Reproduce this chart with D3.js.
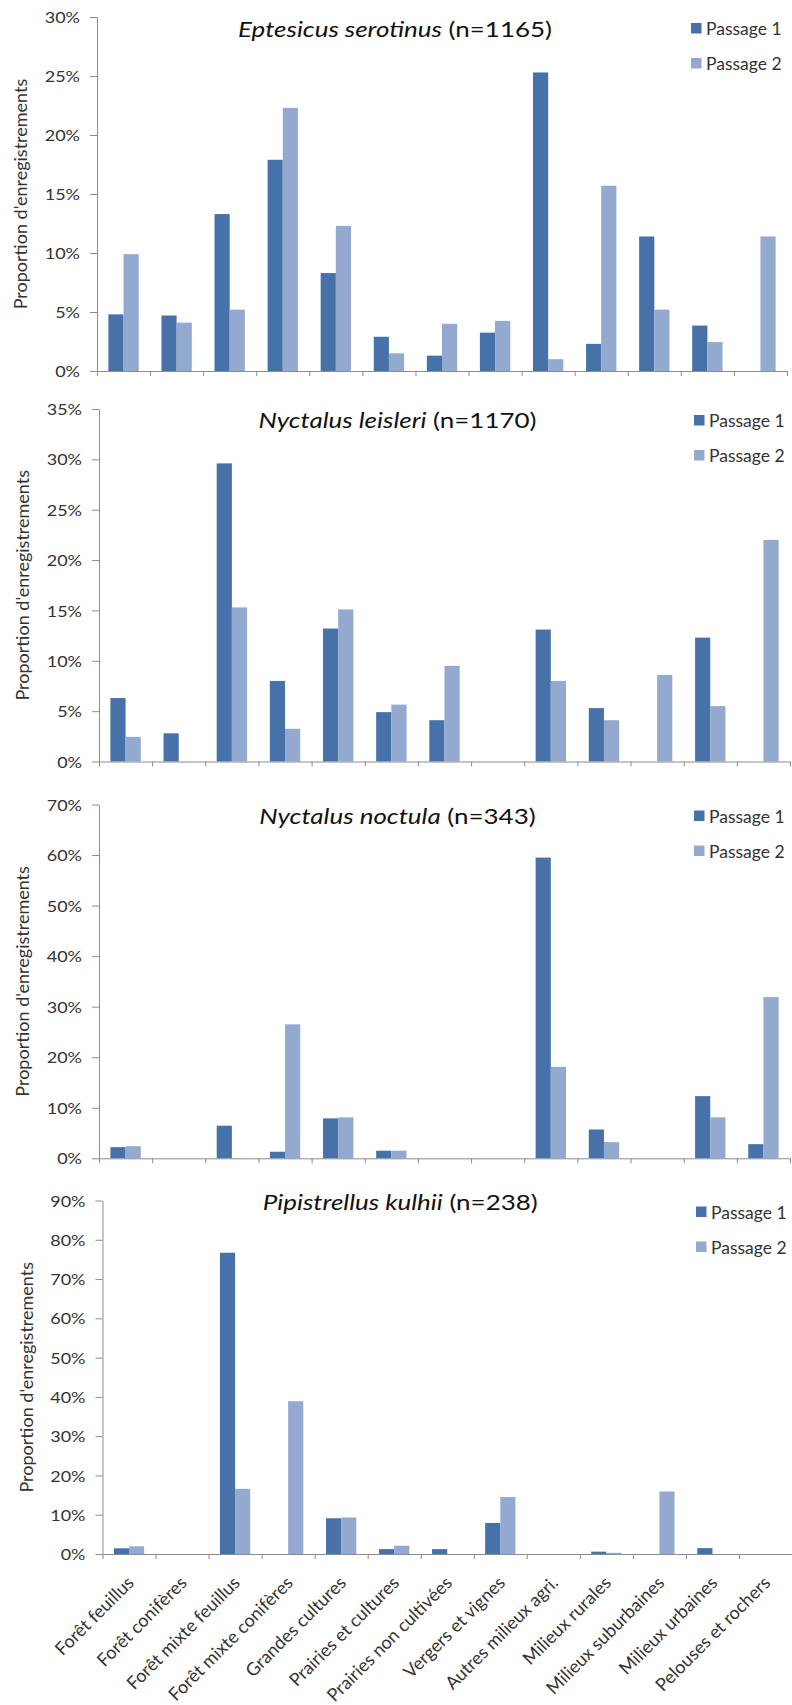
<!DOCTYPE html>
<html>
<head>
<meta charset="utf-8">
<script src="https://cdn.jsdelivr.net/npm/d3@7"></script>
<style>
  html, body { margin: 0; padding: 0; background: #ffffff; }
  svg { display: block; }
</style>
</head>
<body>
<svg id="chart" width="792" height="1705"></svg>
<script>
// Habitat categories (x axis)
const categories = [
  "Forêt feuillus", "Forêt conifères", "Forêt mixte feuillus", "Forêt mixte conifères",
  "Grandes cultures", "Prairies et cultures", "Prairies non cultivées", "Vergers et vignes",
  "Autres milieux agri.", "Milieux rurales", "Milieux suburbaines", "Milieux urbaines",
  "Pelouses et rochers"
];
const seriesNames = ["Passage 1", "Passage 2"];

// Species shown, with number of recordings
const speciesNames = ["Eptesicus serotinus", "Nyctalus leisleri", "Nyctalus noctula", "Pipistrellus kulhii"];
const sampleSizes = [1165, 1170, 343, 238];

// Share of recordings (%) per habitat, passage 1 and passage 2
const serotinusP1 = [4.8, 4.7, 13.3, 17.9, 8.3, 2.9, 1.3, 3.25, 25.3, 2.3, 11.4, 3.85, 0];
const serotinusP2 = [9.9, 4.1, 5.2, 22.3, 12.3, 1.5, 4.0, 4.25, 1.0, 15.7, 5.2, 2.45, 11.4];
const leisleriP1 = [6.3, 2.8, 29.6, 8.0, 13.2, 4.9, 4.1, 0, 13.1, 5.3, 0, 12.3, 0];
const leisleriP2 = [2.45, 0, 15.3, 3.25, 15.1, 5.65, 9.5, 0, 8.0, 4.1, 8.6, 5.5, 22.0];
const noctulaP1 = [2.2, 0, 6.45, 1.3, 7.9, 1.5, 0, 0, 59.5, 5.7, 0, 12.3, 2.8];
const noctulaP2 = [2.4, 0, 0, 26.5, 8.1, 1.5, 0, 0, 18.1, 3.2, 0, 8.1, 31.9];
const kulhiiP1 = [1.45, 0, 76.7, 0, 9.1, 1.25, 1.25, 7.9, 0, 0.6, 0, 1.5, 0];
const kulhiiP2 = [1.95, 0, 16.6, 38.9, 9.3, 2.1, 0, 14.5, 0, 0.3, 15.9, 0, 0];

// Value axis extent and tick step per panel
const axisMaxima = [30, 35, 70, 90];
const axisSteps = [5, 5, 10, 10];

const yTitle = "Proportion d'enregistrements";

// Styling and panel placement
const colors = ["#4672A9", "#93A9CF"];
const axisColor = "#8c8c8c";
const textColor = "#333333";
const FONT = "Lato, 'Open Sans', 'Noto Sans', sans-serif";
const layout = [
  { left: 97,    right: 787, top: 17,     bottom: 371,    titleY: 37 },
  { left: 99,    right: 790, top: 409,    bottom: 761.5,  titleY: 427.5 },
  { left: 99,    right: 790, top: 804.5,  bottom: 1158.3, titleY: 823.5 },
  { left: 102.5, right: 792, top: 1200.5, bottom: 1554,   titleY: 1210 }
];

const panels = [
  { values: [serotinusP1, serotinusP2] },
  { values: [leisleriP1, leisleriP2] },
  { values: [noctulaP1, noctulaP2] },
  { values: [kulhiiP1, kulhiiP2] }
];

const svg = d3.select("#chart");
svg.append("rect").attr("width", 792).attr("height", 1705).attr("fill", "#ffffff");

panels.forEach((panel, pi) => {
  const box = layout[pi];
  const max = axisMaxima[pi];
  const step = axisSteps[pi];

  // Clustered bars: gap between groups is 1.5 bar widths
  const x0 = d3.scaleBand()
    .domain(categories)
    .range([box.left, box.right])
    .paddingInner(1.5 / 3.5)
    .paddingOuter(0.75 / 3.5);
  const x1 = d3.scaleBand().domain(seriesNames).range([0, x0.bandwidth()]);
  const y = d3.scaleLinear().domain([0, max]).range([box.bottom, box.top]);
  const xEdges = d3.scaleLinear().domain([0, categories.length]).range([box.left, box.right]);

  const g = svg.append("g").attr("class", "panel");

  // Bars
  const rows = categories.map((c, ci) => ({
    cat: c,
    items: seriesNames.map((s, si) => ({ series: s, si, value: panel.values[si][ci] }))
  }));
  g.append("g").selectAll("g")
    .data(rows)
    .join("g")
    .attr("transform", d => `translate(${x0(d.cat)},0)`)
    .selectAll("rect")
    .data(d => d.items.filter(it => it.value > 0))
    .join("rect")
    .attr("x", d => x1(d.series))
    .attr("y", d => y(d.value))
    .attr("width", x1.bandwidth())
    .attr("height", d => y(0) - y(d.value))
    .attr("fill", d => colors[d.si]);

  // Value axis
  const yAxis = d3.axisLeft(y)
    .tickValues(d3.range(0, max + step / 2, step))
    .tickFormat(d => d + "%")
    .tickSizeInner(7)
    .tickSizeOuter(0);
  const ga = g.append("g").attr("transform", `translate(${box.left},0)`).call(yAxis);
  ga.attr("font-family", null).attr("font-size", null);
  ga.select(".domain").attr("stroke", axisColor);
  ga.selectAll(".tick line").attr("stroke", axisColor);
  ga.selectAll(".tick text")
    .attr("x", null)
    .attr("dy", "0.36em")
    .attr("text-anchor", "end")
    .attr("transform", "translate(-17,0) scale(1.16,1)")
    .attr("fill", textColor)
    .style("font-family", FONT)
    .style("font-size", "15.5px");

  // Category axis with ticks on the boundaries
  const xAxis = d3.axisBottom(xEdges)
    .tickValues(d3.range(categories.length + 1))
    .tickFormat("")
    .tickSizeInner(5)
    .tickSizeOuter(0);
  const gx = g.append("g").attr("transform", `translate(0,${box.bottom})`).call(xAxis);
  gx.select(".domain").attr("stroke", axisColor);
  gx.selectAll(".tick line").attr("stroke", axisColor);

  // Axis title
  g.append("text")
    .attr("transform", `translate(${box.left - 70},${(box.top + box.bottom) / 2}) rotate(-90)`)
    .attr("text-anchor", "middle")
    .attr("fill", textColor)
    .style("font-family", FONT)
    .style("font-size", "18px")
    .text(yTitle);

  // Chart title: species in italics, sample size upright
  const title = g.append("text")
    .attr("transform", `translate(${(box.left + box.right) / 2 - 47},${box.titleY}) scale(1.18,1)`)
    .attr("text-anchor", "middle")
    .attr("fill", "#111111")
    .style("font-family", FONT)
    .style("font-size", "22px");
  title.append("tspan").style("font-style", "italic").text(speciesNames[pi]);
  title.append("tspan").text(` (n=${sampleSizes[pi]})`);

  // Legend
  const lg = g.append("g").attr("transform", `translate(${box.right - 96},${box.top + 6})`);
  const items = lg.selectAll("g").data(seriesNames).join("g")
    .attr("transform", (d, i) => `translate(0,${i * 35})`);
  items.append("rect").attr("width", 10.5).attr("height", 10.5).attr("fill", (d, i) => colors[i]);
  items.append("text")
    .attr("x", 15).attr("y", 12.3)
    .attr("fill", textColor)
    .style("font-family", FONT)
    .style("font-size", "17.5px")
    .text(d => d);

  // Category labels under the last panel only
  if (pi === panels.length - 1) {
    g.append("g").selectAll("text")
      .data(categories)
      .join("text")
      .attr("transform", d => `translate(${x0(d) + x0.bandwidth() / 2 + 6},${box.bottom + 30}) rotate(-45)`)
      .attr("text-anchor", "end")
      .attr("fill", textColor)
      .style("font-family", FONT)
      .style("font-size", "18px")
      .text(d => d);
  }
});
</script>
</body>
</html>
